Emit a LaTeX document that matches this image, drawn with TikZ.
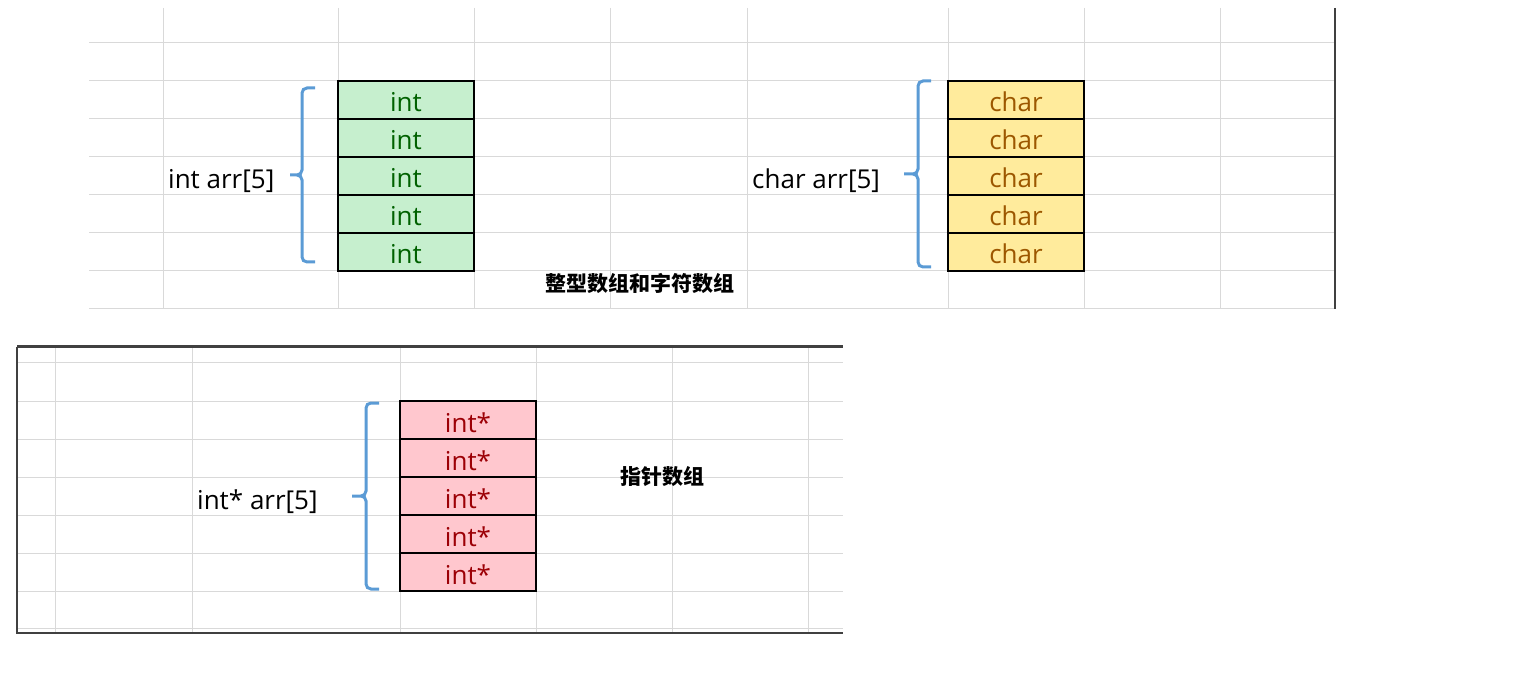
\documentclass[tikz,border=0pt]{standalone}
\usepackage{fontspec}
\setmainfont{Open Sans}
\newfontfamily\cjk{Noto Sans CJK SC}
\usetikzlibrary{positioning}

\definecolor{gridgray}{HTML}{D9D9D9}
\definecolor{edgegray}{HTML}{404040}
\definecolor{braceblue}{HTML}{5B9BD5}
\definecolor{greenfill}{HTML}{C6EFCE}
\definecolor{greentext}{HTML}{006100}
\definecolor{yellowfill}{HTML}{FFEB9C}
\definecolor{yellowtext}{HTML}{9C5700}
\definecolor{pinkfill}{HTML}{FFC7CE}
\definecolor{pinktext}{HTML}{9C0006}

\begin{document}
\begin{tikzpicture}[x=1pt, y=-1pt,
    gridline/.style={draw=gridgray, line width=1pt},
    panel/.style={draw=edgegray, line width=2pt},
    cell/.style={draw=black, line width=2pt, minimum width=136pt,
        minimum height=38pt, inner sep=0pt, text height=24pt, text depth=0pt,
        font=\fontsize{26}{30}\selectfont},
    brace/.style={draw=braceblue, line width=3pt, rounded corners=5pt},
    decl/.style={anchor=base west, inner sep=0pt, font=\fontsize{26}{30}\selectfont},
    title/.style={inner sep=0pt, font=\cjk\bfseries\fontsize{21}{24}\selectfont}]
    \useasboundingbox (0,0) rectangle (1531,684);

    % top sheet
    \foreach \y in {43,81,...,309}
        \draw[gridline] (89,\y) -- (1335,\y);
    \foreach \x in {163,338,474,610,747,948,1084,1220}
        \draw[gridline] (\x,8) -- (\x,309);
    \draw[draw=edgegray, line width=1.5pt] (1335,8) -- (1335,309);

    \foreach \i in {1,...,5} {
        \node[cell, fill=greenfill, text=greentext] (int\i) at (406,62+38*\i) {int};
        \node[cell, fill=yellowfill, text=yellowtext] (char\i) at (1016,62+38*\i) {char};
    }

    \draw[brace] (315,88) -- (302,88) -- (302,175) -- (290,175)
        (290,175) -- (302,175) -- (302,262) -- (315,262);
    \draw[brace] (931,81) -- (918,81) -- (918,174) -- (904,174)
        (904,174) -- (918,174) -- (918,267) -- (931,267);

    \node[decl] (intdecl) at (168,189) {int arr[5]};
    \node[decl] (chardecl) at (752,189) {char arr[5]};
    \node[title] (toptitle) at (640,284) {整型数组和字符数组};

    % bottom sheet
    \foreach \y in {363,401,...,591,628}
        \draw[gridline] (17,\y) -- (843,\y);
    \foreach \x in {55,192,400,536,672,808}
        \draw[gridline] (\x,347) -- (\x,633);
    \draw[panel] (17,347) -- (17,633) -- (843,633);
    \draw[panel, line width=3pt] (17,347) -- (843,347);

    \foreach \i in {1,...,5}
        \node[cell, fill=pinkfill, text=pinktext] (ptr\i) at (468,382+38*\i) {int*};

    \draw[brace] (379,403) -- (366,403) -- (366,496) -- (352,496)
        (352,496) -- (366,496) -- (366,589) -- (379,589);

    \node[decl] (ptrdecl) at (197,509) {int* arr[5]};
    \node[title] (bottomtitle) at (662,477) {指针数组};
\end{tikzpicture}
\end{document}
